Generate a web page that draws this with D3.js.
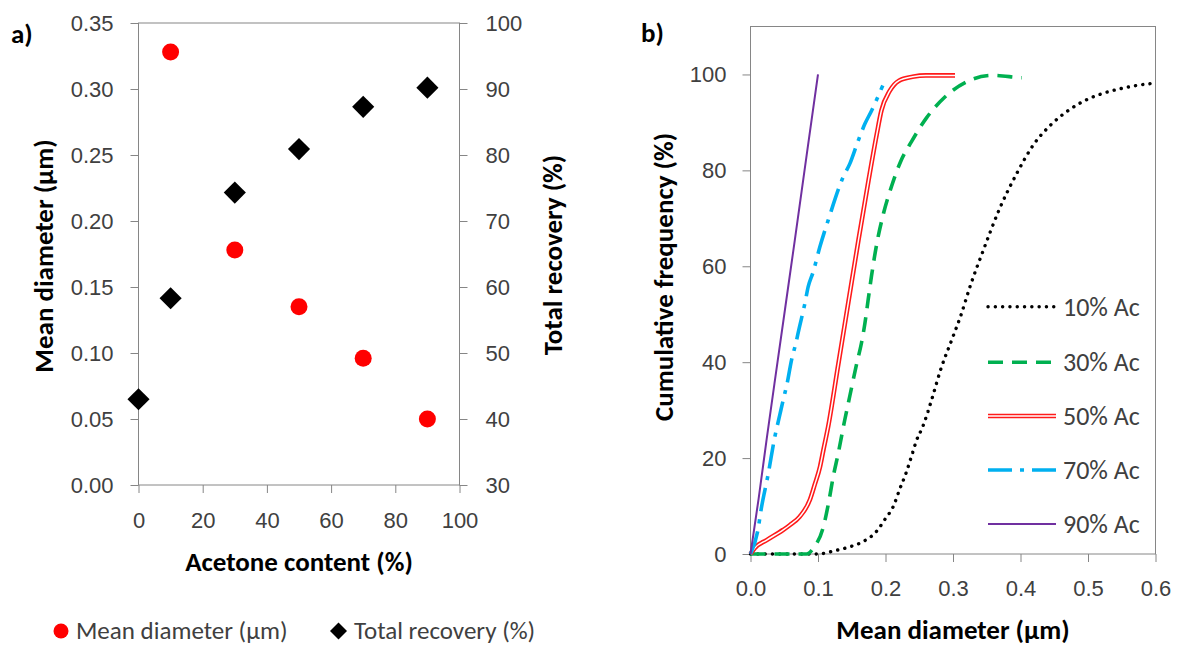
<!DOCTYPE html>
<html>
<head>
<meta charset="utf-8">
<script src="https://cdn.jsdelivr.net/npm/d3@7"></script>
<style>
  body { margin: 0; background: #fff; }
  svg { display: block; font-family: Carlito, Lato, "Open Sans", sans-serif; }
  .tick text { font-size: 22px; fill: #404040; }
  .tick line { stroke: #868686; }
  .title { font-size: 27px; font-weight: bold; fill: #000; }
  .leg { font-size: 26px; fill: #404040; }
  .legA { font-size: 25px; fill: #404040; }
</style>
</head>
<body>
<svg width="1177" height="646"></svg>
<script>
// panel a) values
const acetoneDiam = [10, 30, 50, 70, 90];
const meanDiameter = [0.328, 0.178, 0.135, 0.096, 0.050];
const acetoneRec = [0, 10, 30, 50, 70, 90];
const totalRecovery = [43.0, 58.3, 74.3, 80.9, 87.3, 90.2];
const leftTicks = [0, 0.05, 0.10, 0.15, 0.20, 0.25, 0.30, 0.35];
const rightTicks = [30, 40, 50, 60, 70, 80, 90, 100];
const acetoneTicks = [0, 20, 40, 60, 80, 100];

// panel b) cumulative size distributions, [diameter µm, cumulative %]
const ac10 = [[0, 0], [0.1, 0], [0.125, 0.7], [0.147, 1.5], [0.167, 2.6], [0.186, 4.6], [0.2, 7.4],
  [0.2115, 9.9], [0.221, 13.5], [0.231, 17.1], [0.239, 20.6], [0.246, 23.7], [0.255, 26.5],
  [0.262, 29.3], [0.268, 32], [0.283, 39], [0.298, 44.6], [0.311, 49.5], [0.327, 56.5],
  [0.344, 63], [0.369, 72], [0.395, 79.5], [0.42, 85.5], [0.445, 89.5], [0.471, 92.5],
  [0.496, 94.6], [0.521, 96], [0.547, 97], [0.572, 97.7], [0.6, 98.2]];
const ac30 = [[0, 0], [0.083, 0], [0.093, 1.2], [0.108, 5.7], [0.1165, 11.3], [0.1224, 16], [0.13, 21],
  [0.1397, 28], [0.1472, 33], [0.157, 39.5], [0.1644, 44], [0.1694, 48], [0.1743, 53], [0.1793, 58],
  [0.1868, 64.5], [0.197, 71], [0.209, 76.7], [0.222, 81.7], [0.2385, 86], [0.261, 91], [0.288, 95.3],
  [0.319, 98.4], [0.3585, 99.8], [0.394, 99.4], [0.402, 99.3]];
const ac50 = [[0, 0], [0.006, 1.2], [0.024, 2.9], [0.048, 5], [0.058, 6], [0.073, 7.8], [0.088, 11.3],
  [0.095, 14.4], [0.103, 18.2], [0.108, 21.7], [0.115, 26.5], [0.13, 39.5], [0.145, 52.5],
  [0.16, 65.5], [0.175, 78], [0.187, 87.5], [0.194, 92.5], [0.206, 96.5], [0.22, 98.7],
  [0.24, 99.5], [0.26, 99.8], [0.303, 99.8]];
const ac70 = [[0, 0], [0.011, 5], [0.016, 9.5], [0.026, 16.5], [0.036, 24.4], [0.0434, 29], [0.0484, 32.1],
  [0.0543, 35.6], [0.0607, 40.4], [0.0671, 43.9], [0.072, 47], [0.0805, 52.2], [0.0854, 55.7],
  [0.0928, 58.8], [0.1027, 64], [0.116, 70], [0.1373, 78.6], [0.1472, 81.4], [0.1596, 86.2],
  [0.1695, 89.7], [0.1795, 92.5], [0.196, 97.7]];
const ac90 = [[0, 0], [0.012, 11.5], [0.024, 24], [0.04, 40], [0.0656, 65.4], [0.085, 85], [0.1, 100]];
const seriesNames = ["10% Ac", "30% Ac", "50% Ac", "70% Ac", "90% Ac"];
const diamTicks = [0, 0.1, 0.2, 0.3, 0.4, 0.5, 0.6];
const freqTicks = [0, 20, 40, 60, 80, 100];

const svg = d3.select("svg");
const frame = "#868686";

// ---------- panel a ----------
const xA = d3.scaleLinear().domain([0, 100]).range([138.5, 459.5]);
const yL = d3.scaleLinear().domain([0, 0.35]).range([485, 23]);
const yR = d3.scaleLinear().domain([30, 100]).range([485, 23]);

const gA = svg.append("g");
gA.append("rect")
  .attr("x", xA(0)).attr("y", yL(0.35))
  .attr("width", xA(100) - xA(0)).attr("height", yL(0) - yL(0.35))
  .attr("fill", "none").attr("stroke", frame);

gA.append("g").attr("transform", `translate(${xA(0)},0)`)
  .call(d3.axisLeft(yL).tickValues(leftTicks).tickFormat(d3.format(".2f")).tickSize(8).tickPadding(17))
  .call(g => g.select(".domain").remove());
gA.append("g").attr("transform", `translate(${xA(100)},0)`)
  .call(d3.axisRight(yR).tickValues(rightTicks).tickSize(8).tickPadding(18))
  .call(g => g.select(".domain").remove());
gA.append("g").attr("transform", `translate(0,${yL(0)})`)
  .call(d3.axisBottom(xA).tickValues(acetoneTicks).tickSize(8).tickPadding(19))
  .call(g => g.select(".domain").remove());

gA.selectAll("circle.md").data(acetoneDiam).join("circle")
  .attr("class", "md")
  .attr("cx", d => xA(d))
  .attr("cy", (d, i) => yL(meanDiameter[i]))
  .attr("r", 8.5).attr("fill", "#ff0000");

const diamond = d3.symbol(d3.symbolSquare).size(245);
gA.selectAll("path.tr").data(acetoneRec).join("path")
  .attr("class", "tr")
  .attr("d", diamond)
  .attr("transform", (d, i) => `translate(${xA(d)},${yR(totalRecovery[i])}) rotate(45)`)
  .attr("fill", "#000");

svg.append("text").attr("class", "title").attr("x", 11).attr("y", 43).text("a)");
svg.append("text").attr("class", "title")
  .attr("text-anchor", "middle").attr("dy", "0.35em")
  .attr("transform", `translate(44,256) rotate(-90)`)
  .text("Mean diameter (µm)");
svg.append("text").attr("class", "title")
  .attr("text-anchor", "middle").attr("dy", "0.35em")
  .attr("transform", `translate(553,255) rotate(-90)`)
  .text("Total recovery (%)");
svg.append("text").attr("class", "title")
  .attr("text-anchor", "middle").attr("dy", "0.35em")
  .attr("x", (xA(0) + xA(100)) / 2).attr("y", 562)
  .text("Acetone content (%)");

// bottom legend
const legA = svg.append("g");
legA.append("circle").attr("cx", 61).attr("cy", 631).attr("r", 7.5).attr("fill", "#ff0000");
legA.append("text").attr("class", "legA").attr("x", 76).attr("y", 630).attr("dy", "0.35em").text("Mean diameter (µm)");
legA.append("path").attr("d", d3.symbol(d3.symbolSquare).size(144))
  .attr("transform", "translate(338.5,631) rotate(45)").attr("fill", "#000");
legA.append("text").attr("class", "legA").attr("x", 354).attr("y", 630).attr("dy", "0.35em").text("Total recovery (%)");

// ---------- panel b ----------
const xB = d3.scaleLinear().domain([0, 0.6]).range([750.5, 1155.5]);
const yB = d3.scaleLinear().domain([0, 110]).range([554, 26.5]);

const gB = svg.append("g");
gB.append("rect")
  .attr("x", xB(0)).attr("y", yB(110))
  .attr("width", xB(0.6) - xB(0)).attr("height", yB(0) - yB(110))
  .attr("fill", "none").attr("stroke", frame);
gB.append("g").attr("transform", `translate(${xB(0)},0)`)
  .call(d3.axisLeft(yB).tickValues(freqTicks).tickSize(8).tickPadding(16))
  .call(g => g.select(".domain").remove());
gB.append("g").attr("transform", `translate(0,${yB(0)})`)
  .call(d3.axisBottom(xB).tickValues(diamTicks).tickFormat(d3.format(".1f")).tickSize(8).tickPadding(18))
  .call(g => g.select(".domain").remove());

const line = d3.line().x(d => xB(d[0])).y(d => yB(d[1])).curve(d3.curveMonotoneX);

const styles = [
  { data: ac10, color: "#000000", width: 3.4, dash: "0.1,7.2", cap: "round" },
  { data: ac30, color: "#00b050", width: 3.6, dash: "15,9", cap: "butt" },
  { data: ac50, color: "#ff1a1a", width: 4.6, dash: null, cap: "butt", double: true },
  { data: ac70, color: "#00b0f0", width: 3.6, dash: "24,8,4,8", cap: "butt" },
  { data: ac90, color: "#7030a0", width: 2, dash: null, cap: "butt" }
];

const drawLine = (g, s, path) => {
  g.append("path").attr("d", path)
    .attr("fill", "none").attr("stroke", s.color).attr("stroke-width", s.width)
    .attr("stroke-dasharray", s.dash).attr("stroke-linecap", s.cap);
  if (s.double) {
    g.append("path").attr("d", path)
      .attr("fill", "none").attr("stroke", "#fff").attr("stroke-width", 1.5);
  }
};

styles.forEach(s => drawLine(gB, s, line(s.data)));

// right legend
const legRows = [306.7, 362.3, 416, 470, 524];
styles.forEach((s, i) => {
  const y = legRows[i];
  drawLine(gB, s, `M988,${y}H1056`);
  gB.append("text").attr("class", "leg").attr("x", 1063).attr("y", y).attr("dy", "0.35em").text(seriesNames[i]);
});

svg.append("text").attr("class", "title").attr("x", 641).attr("y", 42).text("b)");
svg.append("text").attr("class", "title")
  .attr("text-anchor", "middle").attr("dy", "0.35em")
  .attr("transform", `translate(664,277) rotate(-90)`)
  .text("Cumulative frequency (%)");
svg.append("text").attr("class", "title")
  .attr("text-anchor", "middle").attr("dy", "0.35em")
  .attr("x", (xB(0) + xB(0.6)) / 2).attr("y", 630)
  .text("Mean diameter (µm)");
</script>
</body>
</html>
